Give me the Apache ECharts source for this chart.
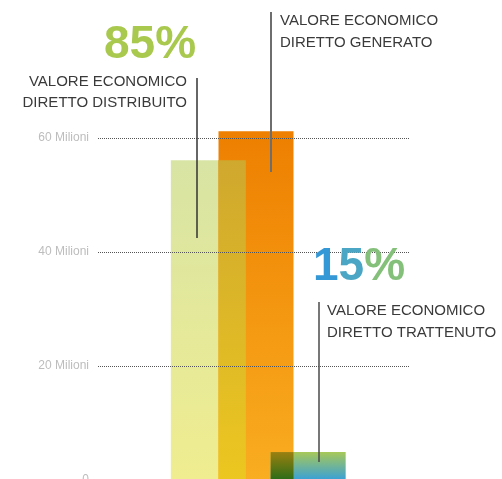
<!DOCTYPE html>
<html>
<head>
<meta charset="utf-8">
<style>
  html, body { margin: 0; padding: 0; background: #fff; }
  #chart { width: 502px; height: 479px; }
</style>
<script src="https://cdn.jsdelivr.net/npm/echarts@6/dist/echarts.min.js"></script>
</head>
<body>
<div id="chart"></div>
<script>
// dati (milioni di euro)
const categories = ["Distribuito", "Generato", "Trattenuto"];
const values = [56.1, 61.2, 4.9];
const yTicks = [0, 20, 40, 60];

// stile delle barre: colori in alto / in basso
const barColors = [
  ["#d8e4a4", "#f0ed90"],
  ["#ee7f00", "#f9ad20"],
  ["#a8c858", "#38a0d8"],
];
// colore della zona in cui la barra si sovrappone a quella arancione
const overlapColors = {
  0: ["#cfa82e", "#ecc720"],
  2: ["#9c8010", "#2a6c18"],
};
const barWidth = 75;
const barShift = [58.5, 2.5, -49];

const FONT = "Liberation Sans";

function grad(c) {
  return new echarts.graphic.LinearGradient(0, 0, 0, 1, [
    { offset: 0, color: c[0] },
    { offset: 1, color: c[1] },
  ]);
}

function rectOf(api, j) {
  const top = api.coord([j, values[j]]);
  const base = api.coord([j, 0]);
  const cx = base[0] + barShift[j];
  return { x: cx - barWidth / 2, y: top[1], width: barWidth, height: base[1] - top[1] };
}

function renderBar(params, api) {
  const i = params.dataIndex;
  const r = rectOf(api, i);
  const children = [
    { type: "rect", shape: r, style: { fill: grad(barColors[i]) }, z2: i === 1 ? 1 : i === 0 ? 0 : 2 },
  ];
  if (overlapColors[i]) {
    const o = rectOf(api, 1);
    const x1 = Math.max(r.x, o.x);
    const x2 = Math.min(r.x + r.width, o.x + o.width);
    const y1 = Math.max(r.y, o.y);
    const y2 = Math.min(r.y + r.height, o.y + o.height);
    if (x2 > x1 && y2 > y1) {
      children.push({
        type: "rect",
        shape: { x: x1, y: y1, width: x2 - x1, height: y2 - y1 },
        style: { fill: grad(overlapColors[i]) },
        z2: 3,
      });
    }
  }
  return { type: "group", children: children };
}

const textStyle = { fontFamily: FONT, fontSize: 15, fill: "#3a3a3a" };
const bigFont = { fontFamily: FONT, fontSize: 46, fontWeight: "bold" };

const option = {
  animation: false,
  grid: { left: 98, right: 93, top: 138, bottom: -1, outerBoundsMode: "none", containLabel: false },
  xAxis: { type: "category", data: categories, show: false },
  yAxis: {
    type: "value",
    min: yTicks[0],
    max: yTicks[yTicks.length - 1],
    interval: yTicks[1] - yTicks[0],
    z: 3,
    axisLine: { show: false },
    axisTick: { show: false },
    axisLabel: {
      color: "#bdbdbd",
      fontFamily: FONT,
      fontSize: 12,
      margin: 9,
      formatter: (v) => (v === 0 ? "0" : v + " Milioni"),
    },
    splitLine: { lineStyle: { color: "#555", width: 1, type: [1, 1] } },
  },
  series: [
    {
      type: "custom",
      clip: false,
      data: values.map((v, i) => [i, v]),
      encode: { x: 0, y: 1 },
      renderItem: renderBar,
    },
  ],
  graphic: [
    // etichette e linee di richiamo
    { type: "line", z: 10, shape: { x1: 197, y1: 78, x2: 197, y2: 238 }, style: { stroke: "#333", lineWidth: 1.5 } },
    { type: "line", z: 10, shape: { x1: 271, y1: 12, x2: 271, y2: 172 }, style: { stroke: "#6e6e6e", lineWidth: 2 } },
    { type: "line", z: 10, shape: { x1: 319, y1: 302, x2: 319, y2: 462 }, style: { stroke: "#4a4a4a", lineWidth: 1.5 } },
    {
      type: "text", z: 10, x: 104, y: 45,
      style: Object.assign({ text: "85%", fill: "#a8c84e", verticalAlign: "middle" }, bigFont),
    },
    {
      type: "text", z: 10, x: 313, y: 267,
      style: {
        text: "{a|1}{b|5}{c|%}",
        verticalAlign: "middle",
        rich: {
          a: Object.assign({ fill: "#3598d6" }, bigFont),
          b: Object.assign({ fill: "#4aa6c4" }, bigFont),
          c: Object.assign({ fill: "#84c07a" }, bigFont),
        },
      },
    },
    { type: "text", z: 10, x: 187, y: 81.5, style: Object.assign({ text: "VALORE ECONOMICO", align: "right", verticalAlign: "middle" }, textStyle) },
    { type: "text", z: 10, x: 187, y: 102.5, style: Object.assign({ text: "DIRETTO DISTRIBUITO", align: "right", verticalAlign: "middle" }, textStyle) },
    { type: "text", z: 10, x: 280, y: 21, style: Object.assign({ text: "VALORE ECONOMICO", verticalAlign: "middle" }, textStyle) },
    { type: "text", z: 10, x: 280, y: 43, style: Object.assign({ text: "DIRETTO GENERATO", verticalAlign: "middle" }, textStyle) },
    { type: "text", z: 10, x: 327, y: 311, style: Object.assign({ text: "VALORE ECONOMICO", verticalAlign: "middle" }, textStyle) },
    { type: "text", z: 10, x: 327, y: 332.5, style: Object.assign({ text: "DIRETTO TRATTENUTO", verticalAlign: "middle" }, textStyle) },
  ],
};

const chart = echarts.init(document.getElementById("chart"));
chart.setOption(option);
window.addEventListener("resize", () => chart.resize());
</script>
</body>
</html>
